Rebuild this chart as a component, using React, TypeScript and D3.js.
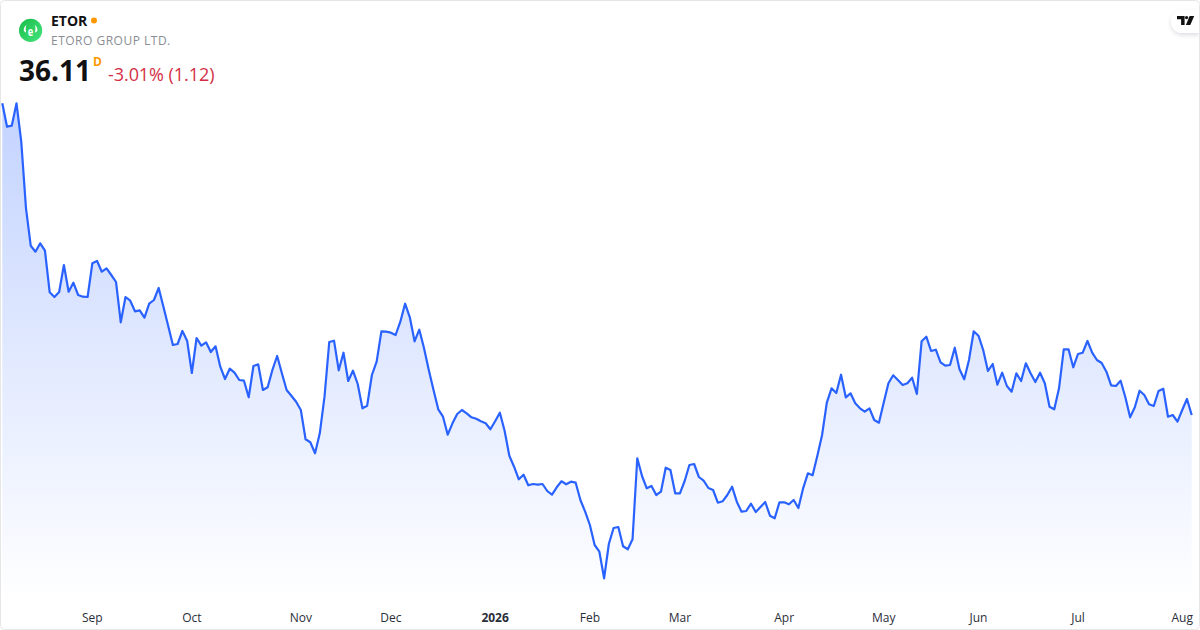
import React, { useEffect, useRef } from 'react'
import * as d3 from 'd3'

const symbol = 'ETOR'
const companyName = 'ETORO GROUP LTD.'
const lastPrice = '36.11'
const changeLabel = '-3.01% (1.12)'

const closes: number[] = [
  67.28, 64.94, 65.04, 67.28, 63.44, 56.78, 53.04, 52.44, 53.28, 52.54, 48.38, 47.91, 48.41, 51.11, 48.44, 49.34,
  48.11, 47.94, 47.91, 51.28, 51.51, 50.44, 50.78, 50.11, 49.41, 45.38, 47.91, 47.54, 46.48, 46.58, 45.84, 47.24,
  47.61, 48.81, 46.94, 45.04, 43.11, 43.21, 44.51, 43.54, 40.31, 43.81, 43.04, 43.38, 42.41, 42.98, 40.94, 39.71,
  40.74, 40.34, 39.61, 39.54, 37.88, 41.01, 41.18, 38.61, 38.88, 40.61, 42.01, 40.28, 38.61, 38.04, 37.44, 36.61,
  33.68, 33.38, 32.28, 34.28, 37.94, 43.41, 43.54, 40.58, 42.34, 39.51, 40.54, 39.21, 36.78, 37.04, 40.11, 41.44,
  44.48, 44.44, 44.34, 44.11, 45.44, 47.24, 45.88, 43.48, 44.64, 42.78, 40.61, 38.61, 36.68, 35.94, 34.14, 35.28,
  36.21, 36.61, 36.28, 35.88, 35.74, 35.48, 35.28, 34.68, 35.48, 36.34, 34.54, 32.04, 30.94, 29.68, 30.14, 29.08,
  29.21, 29.14, 29.21, 28.51, 28.14, 28.88, 29.48, 29.18, 29.44, 29.34, 27.61, 26.44, 25.11, 23.11, 22.44, 19.78,
  23.21, 24.81, 24.91, 22.98, 22.68, 23.68, 31.78, 30.01, 28.78, 29.01, 28.11, 28.44, 30.84, 30.61, 28.28, 28.28,
  29.51, 31.11, 31.21, 29.91, 29.54, 28.81, 28.61, 27.34, 27.48, 28.11, 28.94, 27.44, 26.44, 26.51, 27.24, 26.41,
  26.91, 27.41, 26.04, 25.78, 27.38, 27.38, 27.18, 27.61, 26.81, 28.78, 30.28, 30.08, 32.04, 34.11, 37.34, 38.78,
  38.31, 40.14, 37.88, 38.28, 37.28, 36.78, 36.44, 36.78, 35.61, 35.34, 37.34, 39.28, 40.08, 39.61, 39.11, 39.28,
  39.84, 38.21, 43.48, 43.94, 42.51, 42.64, 41.38, 41.04, 41.11, 42.84, 40.68, 39.68, 41.61, 44.48, 44.04, 42.61,
  40.51, 41.21, 39.14, 40.34, 39.01, 38.44, 40.28, 39.51, 41.28, 40.28, 39.41, 40.34, 39.28, 36.94, 36.68, 38.78,
  42.68, 42.68, 40.88, 42.21, 42.34, 43.51, 42.34, 41.61, 41.31, 40.44, 39.08, 39.01, 39.54, 37.88, 35.88, 36.88,
  38.54, 38.11, 37.18, 37.01, 38.51, 38.74, 35.94, 36.11, 35.44, 36.61, 37.71, 36.11,
]

// index of the first trading day shown under each month label
const tickIndexes = [19, 40, 63, 82, 104, 124, 143, 165, 186, 206, 227, 249]
const tickLabels = ['Sep', 'Oct', 'Nov', 'Dec', '2026', 'Feb', 'Mar', 'Apr', 'May', 'Jun', 'Jul', 'Aug']

const width = 1200
const height = 630
const paneBottom = 602
const uiFont = '"Open Sans", sans-serif'

const App: React.FC = () => {
  const axisRef = useRef<SVGGElement>(null)

  const x = d3.scaleLinear().domain([0, closes.length - 1]).range([2.3, 1191.7])
  const y = d3
    .scaleLinear()
    .domain([d3.min(closes) as number, d3.max(closes) as number])
    .range([578.3, 103.3])

  const line = d3
    .line<number>()
    .x((_, i) => x(i))
    .y((d) => y(d))

  const area = d3
    .area<number>()
    .x((_, i) => x(i))
    .y0(paneBottom)
    .y1((d) => y(d))

  useEffect(() => {
    if (!axisRef.current) return
    const axis = d3
      .axisBottom(x)
      .tickValues(tickIndexes)
      .tickSize(0)
      .tickPadding(0)
      .tickFormat((_, i) => tickLabels[i])

    const g = d3.select(axisRef.current).call(axis)
    g.select('.domain').remove()
    g.selectAll('text')
      .attr('y', 0)
      .attr('dy', 0)
      .attr('fill', '#2a2e39')
      .attr('font-size', 12)
      .attr('font-family', uiFont)
      .attr('font-weight', (_, i) => (tickLabels[i] === '2026' ? 700 : 400))
  }, [])

  return (
    <svg
      width={width}
      height={height}
      viewBox={`0 0 ${width} ${height}`}
      style={{ position: 'fixed', left: 0, top: 0, display: 'block', background: '#fff' }}
    >
      <defs>
        <linearGradient id="areaFill" gradientUnits="userSpaceOnUse" x1="0" y1="103" x2="0" y2={paneBottom}>
          <stop offset="0%" stopColor="#2962ff" stopOpacity={0.28} />
          <stop offset="100%" stopColor="#2962ff" stopOpacity={0} />
        </linearGradient>
        <linearGradient id="logoFill" x1="0" y1="0" x2="1" y2="1">
          <stop offset="0%" stopColor="#18bd47" />
          <stop offset="100%" stopColor="#45e47e" />
        </linearGradient>
        <filter id="pillShadow" x="-30%" y="-50%" width="160%" height="200%">
          <feDropShadow dx="0" dy="2" stdDeviation="2" floodColor="#131722" floodOpacity={0.14} />
        </filter>
      </defs>

      <path d={area(closes) ?? ''} fill="url(#areaFill)" />
      <path d={line(closes) ?? ''} fill="none" stroke="#2962ff" strokeWidth={2.2} strokeLinejoin="round" />

      <g ref={axisRef} transform="translate(-0.5,622)" />

      {/* symbol logo */}
      <circle cx={30.6} cy={30.4} r={11.6} fill="url(#logoFill)" />
      <text
        transform="translate(30.6,35.6) scale(0.72,1)"
        textAnchor="middle"
        fill="#fff"
        fontSize={13}
        fontWeight={700}
        fontFamily={uiFont}
      >
        e
      </text>
      <path
        d="M26.4 25c-2.2 1.5-3 3.8-2.5 5.9l2.1 1.9v-2.1c-.6-1.3-.3-3.6.4-5.7zM34.8 25c2.2 1.5 3 3.8 2.5 5.9l-2.1 1.9v-2.1c.6-1.3.3-3.6-.4-5.7z"
        fill="#fff"
      />

      {/* legend */}
      <text x={51} y={26} fill="#111" fontSize={14} fontWeight={700} fontFamily={uiFont}>
        {symbol}
      </text>
      <circle cx={94} cy={20.5} r={3} fill="#ff9800" />
      <text x={51} y={45} fill="#8a8d93" fontSize={12} letterSpacing={0.5} fontFamily={uiFont}>
        {companyName}
      </text>
      <text x={19} y={81} fill="#111" fontSize={28} fontWeight={700} fontFamily={uiFont}>
        {lastPrice}
      </text>
      <text x={93} y={66} fill="#ff9800" fontSize={12} fontWeight={700} fontFamily={uiFont}>
        D
      </text>
      <text x={108} y={81} fill="#d32f45" fontSize={18} letterSpacing={-0.06} fontFamily={uiFont}>
        {changeLabel}
      </text>

      {/* attribution badge */}
      <path d="M1199 10h-16.5a11.5 11.5 0 0 0 0 23H1199z" fill="#fff" filter="url(#pillShadow)" />
      <path d="M1177 16h7.6v9h-3.5v-5.7h-4.1zM1189.6 16h4.6l-3.9 9h-4.4z" fill="#111" />
      <circle cx={1186.6} cy={17.6} r={1.6} fill="#111" />

      {/* outer frame */}
      <rect x={0.5} y={0.5} width={width - 1} height={height - 1} rx={4} fill="none" stroke="#e6e6e6" />
    </svg>
  )
}

export default App
